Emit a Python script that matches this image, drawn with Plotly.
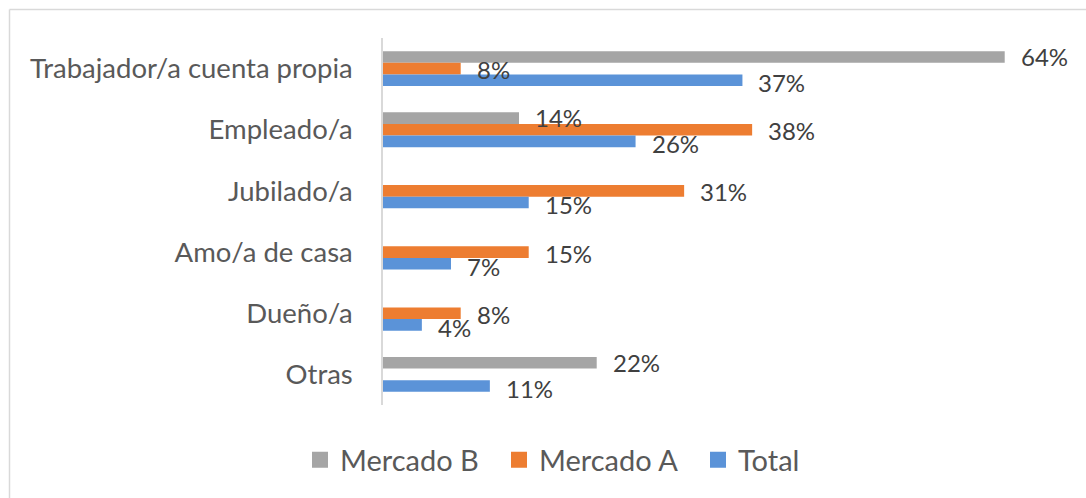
import plotly.graph_objects as go

categories = ["Trabajador/a cuenta propia", "Empleado/a", "Jubilado/a",
              "Amo/a de casa", "Dueño/a", "Otras"]
series_names = ["Mercado B", "Mercado A", "Total"]
mercado_b = [64, 14, None, None, None, 22]
mercado_a = [8, 38, 31, 15, 8, None]
total = [37, 26, 15, 7, 4, 11]
colors = ["#A5A5A5", "#ED7D31", "#5B93D8"]

W, H = 1086, 498
ML, MT, MB = 383, 38, 93
XMAX = 70
PW = 680
MR = W - ML - PW
PH = H - MT - MB

fig = go.Figure()
all_series = [mercado_b, mercado_a, total]
for name, vals, col in zip(series_names, all_series, colors):
    fig.add_trace(go.Bar(
        y=categories, x=vals, name=name, orientation="h",
        marker=dict(color=col, line=dict(width=0)),
        showlegend=False, hoverinfo="x+y"))
# legend proxies
for name, col in zip(series_names, colors):
    fig.add_trace(go.Scatter(
        x=[None], y=[None], mode="markers", name=name,
        marker=dict(symbol="square", size=17, color=col)))

# data labels
yshifts = [12, -1, -14]
annotations = []
for vals, ys in zip(all_series, yshifts):
    for cat, v in zip(categories, vals):
        if v is None:
            continue
        annotations.append(dict(
            x=v, y=cat, xref="x", yref="y", text=f"{v}%",
            showarrow=False, xanchor="left", yanchor="middle",
            xshift=14, yshift=ys,
            font=dict(family="Lato", size=24, color="#404040")))

def px_x(p):
    return (p - ML) / PW

def px_y(p):
    return (H - MB - p) / PH

fig.update_layout(
    width=W, height=H,
    margin=dict(l=ML, r=MR, t=MT, b=MB, pad=0),
    paper_bgcolor="white", plot_bgcolor="white",
    barmode="group", bargap=0.43, bargroupgap=0,
    xaxis=dict(range=[0, XMAX], visible=False, fixedrange=True),
    yaxis=dict(categoryorder="array", categoryarray=categories,
               autorange="reversed", showline=True, linecolor="#d9d9d9",
               linewidth=1.5, ticks="", showgrid=False, ticklabelstandoff=23,
               tickfont=dict(family="Lato", size=27.5, color="#595959")),
    legend=dict(orientation="h", x=px_x(300), y=px_y(460),
                xanchor="left", yanchor="middle",
                font=dict(family="Lato", size=29, color="#595959"),
                itemsizing="trace", traceorder="normal",
                entrywidth=154, entrywidthmode="pixels"),
    annotations=annotations,
    shapes=[
        dict(type="line", xref="paper", yref="paper",
             x0=px_x(9.5), x1=px_x(W), y0=px_y(9.5), y1=px_y(9.5),
             line=dict(color="#d9d9d9", width=1.5)),
        dict(type="line", xref="paper", yref="paper",
             x0=px_x(9.5), x1=px_x(9.5), y0=px_y(9.5), y1=px_y(H),
             line=dict(color="#d9d9d9", width=1.5)),
    ],
)

fig.write_html("out.html", config={"displayModeBar": False},
               post_script="document.body.style.margin='0';")
